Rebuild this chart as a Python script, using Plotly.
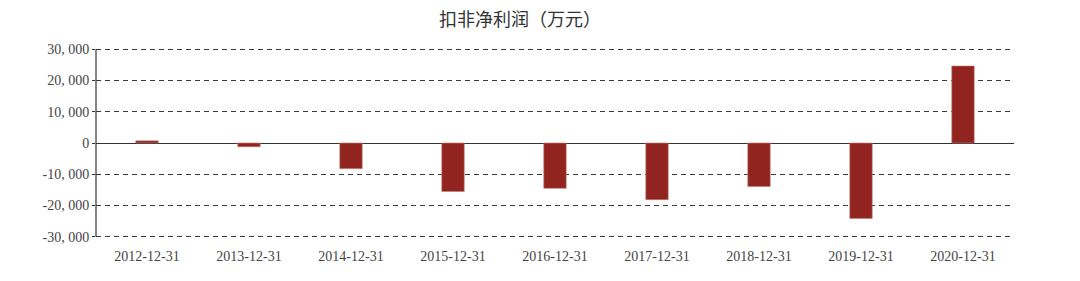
import plotly.graph_objects as go

categories = ["2012-12-31", "2013-12-31", "2014-12-31", "2015-12-31", "2016-12-31",
              "2017-12-31", "2018-12-31", "2019-12-31", "2020-12-31"]
values = [700, -1200, -8200, -15500, -14500, -18100, -13900, -24100, 24600]
y_tickvals = [30000, 20000, 10000, 0, -10000, -20000, -30000]
y_ticktext = ["30, 000", "20, 000", "10, 000", "0", "-10, 000", "-20, 000", "-30, 000"]
title_text = "扣非净利润（万元）"

fig = go.Figure()
fig.add_trace(go.Bar(
    x=categories, y=values,
    marker=dict(color="#922420", line=dict(color="#c07a76", width=0.6)),
    width=0.22,
))

fig.update_layout(
    width=1080, height=281,
    margin=dict(l=96, r=66, t=46, b=41),
    paper_bgcolor="white", plot_bgcolor="white",
    showlegend=False,
    title=dict(text=title_text, x=520/1080, xanchor="center", y=1-20/281, yanchor="middle",
               font=dict(family="Noto Sans CJK SC", size=18, color="#333333")),
    font=dict(family="Liberation Serif, Noto Serif, serif", size=14, color="#444444"),
)
fig.update_xaxes(
    type="category", showgrid=False, showline=False, zeroline=False,
    ticks="outside", ticklen=3, tickcolor="rgba(0,0,0,0)",
    tickfont=dict(family="Liberation Serif", size=14, color="#444444"),
    range=[-0.5, 8.5],
)
fig.update_yaxes(
    range=[-31000, 31000], tickvals=y_tickvals, ticktext=y_ticktext,
    showgrid=True, gridcolor="#3a3a3a", griddash="5px,4px", gridwidth=1,
    zeroline=True, zerolinecolor="#333333", zerolinewidth=1.2,
    showline=False,
    ticks="outside", ticklen=3, tickcolor="#333333",
    tickfont=dict(family="Liberation Serif", size=14, color="#444444"),
)
# left axis spine spanning exactly the -30,000 .. 30,000 tick range
fig.add_shape(type="line", xref="paper", yref="y", x0=0, x1=0,
              y0=min(y_tickvals), y1=max(y_tickvals),
              line=dict(color="#333333", width=1.2))

fig.write_html("out.html")
